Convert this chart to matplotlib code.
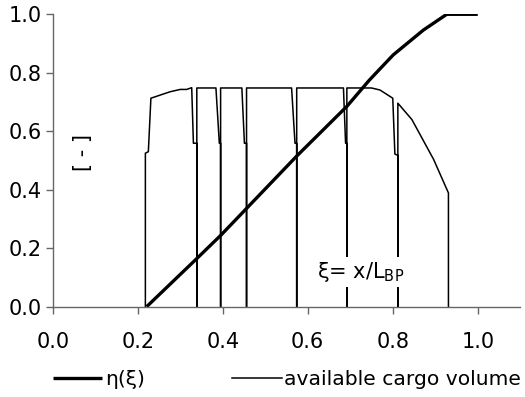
import matplotlib
matplotlib.use("Agg")
import matplotlib.pyplot as plt

# eta(xi) curve
eta_x = [0.221, 0.340, 0.396, 0.456, 0.574, 0.692, 0.745, 0.801, 0.872, 0.927, 1.0]
eta_y = [0.0, 0.166, 0.245, 0.336, 0.515, 0.685, 0.775, 0.861, 0.946, 1.0, 1.0]

# available cargo volume, with bulkhead dips down to zero
cargo_x = [0.218, 0.218, 0.225, 0.231, 0.276, 0.300, 0.315, 0.327,
           0.331, 0.339, 0.339, 0.339,
           0.384, 0.392, 0.395, 0.395, 0.395,
           0.445, 0.451, 0.456, 0.456, 0.456,
           0.562, 0.570, 0.574, 0.574, 0.574,
           0.684, 0.689, 0.692, 0.692, 0.692,
           0.750, 0.770, 0.800, 0.805, 0.811, 0.812, 0.812, 0.812,
           0.845, 0.896, 0.931, 0.931]
cargo_y = [0.0, 0.525, 0.530, 0.713, 0.735, 0.743, 0.743, 0.749,
           0.559, 0.559, 0.0, 0.748,
           0.748, 0.559, 0.559, 0.0, 0.748,
           0.748, 0.559, 0.559, 0.0, 0.748,
           0.748, 0.559, 0.559, 0.0, 0.748,
           0.748, 0.559, 0.559, 0.0, 0.748,
           0.748, 0.741, 0.713, 0.522, 0.518, 0.518, 0.0, 0.696,
           0.640, 0.504, 0.389, 0.0]

xticks = [0.0, 0.2, 0.4, 0.6, 0.8, 1.0]
yticks = [0.0, 0.2, 0.4, 0.6, 0.8, 1.0]

fig = plt.figure(figsize=(5.25, 3.97), dpi=100)
ax = fig.add_axes([0.1004, 0.2275, 0.8906, 0.7365])

ax.plot(cargo_x, cargo_y, color="black", lw=1.1, label="available cargo volume")
ax.plot(eta_x, eta_y, color="black", lw=2.4, label="η(ξ)", solid_capstyle="butt")

ax.set_xlim(0, 1.1)
ax.set_ylim(0, 1.0)
ax.set_xticks(xticks)
ax.set_yticks(yticks)
ax.set_xticklabels([f"{v:.1f}" for v in xticks])
ax.set_yticklabels([f"{v:.1f}" for v in yticks])

for side in ("top", "right"):
    ax.spines[side].set_visible(False)
for side in ("left", "bottom"):
    ax.spines[side].set_color("#666666")
    ax.spines[side].set_linewidth(1.0)
ax.tick_params(axis="both", colors="#666666", labelcolor="black",
               length=5, width=1.0, labelsize=15)
ax.tick_params(axis="x", pad=13)
ax.tick_params(axis="y", pad=3)

ax.text(0.071, 0.526, "[ - ]", rotation=90, fontsize=15,
        ha="center", va="center")
ax.text(0.622, 0.118, "ξ= x/L$_\\mathregular{BP}$", fontsize=15,
        ha="left", va="center",
        bbox=dict(facecolor="white", edgecolor="none", pad=2))

handles, labels = ax.get_legend_handles_labels()
fig.legend(handles[::-1], labels[::-1], loc="center left",
           bbox_to_anchor=(0.1004, 0.043), ncol=2, frameon=False,
           fontsize=14.6, handlelength=2.45, handletextpad=0.12,
           columnspacing=4.3, borderpad=0, borderaxespad=0)

fig.savefig("out.png", dpi=100)
